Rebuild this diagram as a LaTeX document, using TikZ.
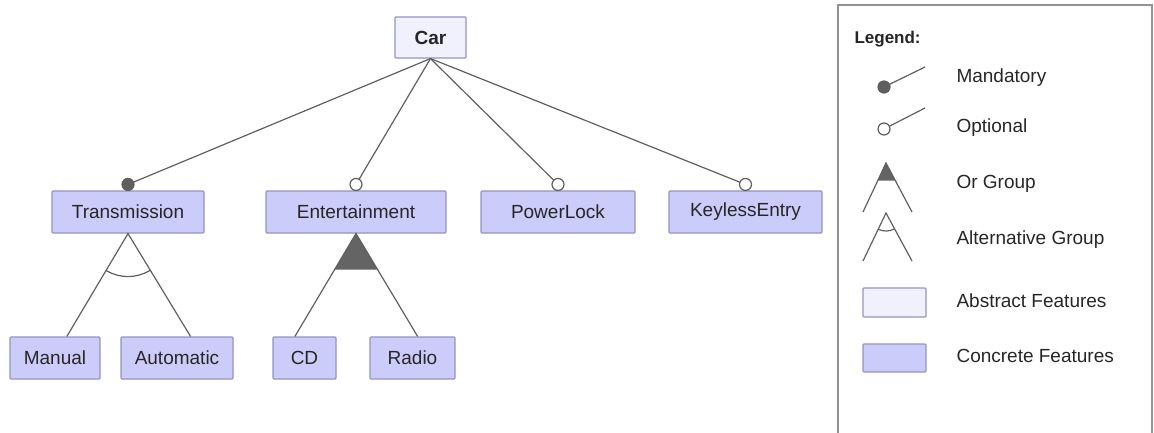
\documentclass[tikz,border=0pt]{standalone}
\usepackage{fontspec}
\setmainfont{Liberation Sans}
\usetikzlibrary{calc}

\definecolor{concretefill}{RGB}{204,204,250}
\definecolor{abstractfill}{RGB}{241,241,254}
\definecolor{boxline}{RGB}{148,148,192}
\definecolor{edgegray}{RGB}{95,95,95}
\definecolor{groupfill}{RGB}{100,100,100}

\tikzset{
  x=1pt, y=1pt,
  feature/.style={draw=boxline, line width=1.1, rounded corners=1pt, minimum height=42, inner sep=0pt,
    font=\fontsize{19}{22}\selectfont, text=black!85},
  concrete/.style={feature, fill=concretefill},
  abstract/.style={feature, fill=abstractfill, font=\fontsize{19}{22}\selectfont\bfseries},
  edge/.style={draw=edgegray, line width=1.2},
  mandot/.style={circle, draw=edgegray, fill=edgegray, line width=1.2, minimum size=12, inner sep=0pt},
  optdot/.style={circle, draw=edgegray, fill=white, line width=1.2, minimum size=12, inner sep=0pt},
  legtext/.style={anchor=west, font=\fontsize{19}{22}\selectfont, text=black!85},
}

\begin{document}
\begin{tikzpicture}
\useasboundingbox (0,0) rectangle (1154,-432);

% create the features
\node[abstract, minimum width=71, minimum height=41] (car) at (430.5,-37.5) {Car};
\node[concrete, minimum width=152] (trans)   at (128,-212)   {Transmission};
\node[concrete, minimum width=180] (ent)     at (356,-212)   {Entertainment};
\node[concrete, minimum width=154] (lock)    at (558,-212)   {PowerLock};
\node[concrete, minimum width=153] (keyless) at (745.5,-212) {KeylessEntry};
\node[concrete, minimum width=90]  (manual)  at (55,-358)    {Manual};
\node[concrete, minimum width=112] (auto)    at (177,-358)   {Automatic};
\node[concrete, minimum width=63]  (cd)      at (304.5,-358) {CD};
\node[concrete, minimum width=85]  (radio)   at (412.5,-358) {Radio};

% mandatory and optional children of the car
\draw[edge] (car.south) -- ([yshift=6pt]trans.north) node[mandot] (trans-dot) {};
\foreach \f in {ent,lock,keyless}
  \draw[edge] (car.south) -- ([yshift=6pt]\f.north) node[optdot] (\f-dot) {};

% where the group lines meet the children
\coordinate (manual-in) at ($(manual.north west)!.63!(manual.north east)$);
\coordinate (auto-in)   at ($(auto.north west)!.62!(auto.north east)$);
\coordinate (cd-in)     at ($(cd.north west)!.35!(cd.north east)$);
\coordinate (radio-in)  at ($(radio.north west)!.56!(radio.north east)$);

% alternative group
\draw[edge] (manual-in) -- (trans.south) -- (auto-in);
\draw[edge] ($(trans.south)+(239.6:43)$) arc[start angle=239.6, end angle=300.8, radius=43];

% or group
\fill[groupfill] (ent.south) -- ($(ent.south)!.35!(cd-in)$) -- ($(ent.south)!.35!(radio-in)$) -- cycle;
\draw[edge] (cd-in) -- (ent.south) -- (radio-in);

% legend frame
\draw[gray!85, line width=2.5] (838,-440) -- (838,-5) -- (1152,-5) -- (1152,-440);
\node[legtext, font=\fontsize{17}{20}\selectfont\bfseries] (legend) at (851,-39) {Legend:};

% legend: mandatory
\coordinate (lm) at (884,-87);
\draw[edge] (lm) -- ++(41,20);
\node[mandot] (lm-dot) at (lm) {};
\node[legtext] (lm-text) at (953,-78) {Mandatory};

% legend: optional
\coordinate (lo) at (884,-129);
\draw[edge] (lo) -- ++(41,21);
\node[optdot] (lo-dot) at (lo) {};
\node[legtext] (lo-text) at (953,-128) {Optional};

% legend: or group
\coordinate (lor) at (886,-163);
\fill[groupfill] (lor) -- ($(lor)!.36!(863,-212)$) -- ($(lor)!.36!(912,-212)$) -- cycle;
\draw[edge] (863,-212) -- (lor) -- (912,-212);
\node[legtext] (lor-text) at (953,-184) {Or Group};

% legend: alternative group
\coordinate (lalt) at (886,-213);
\draw[edge] (863,-261) -- (lalt) -- (912,-261);
\draw[edge] ($(lalt)+(244.4:18)$) arc[start angle=244.4, end angle=298.4, radius=18];
\node[legtext] (lalt-text) at (953,-240) {Alternative Group};

% legend: feature boxes
\draw[draw=boxline, line width=1.1, fill=abstractfill, rounded corners=1pt] (863,-288) rectangle (926,-317);
\node[legtext] (labs-text) at (953,-301) {Abstract Features};
\draw[draw=boxline, line width=1.1, fill=concretefill, rounded corners=1pt] (863,-344) rectangle (926,-372);
\node[legtext] (lcon-text) at (953,-356) {Concrete Features};

\end{tikzpicture}
\end{document}
